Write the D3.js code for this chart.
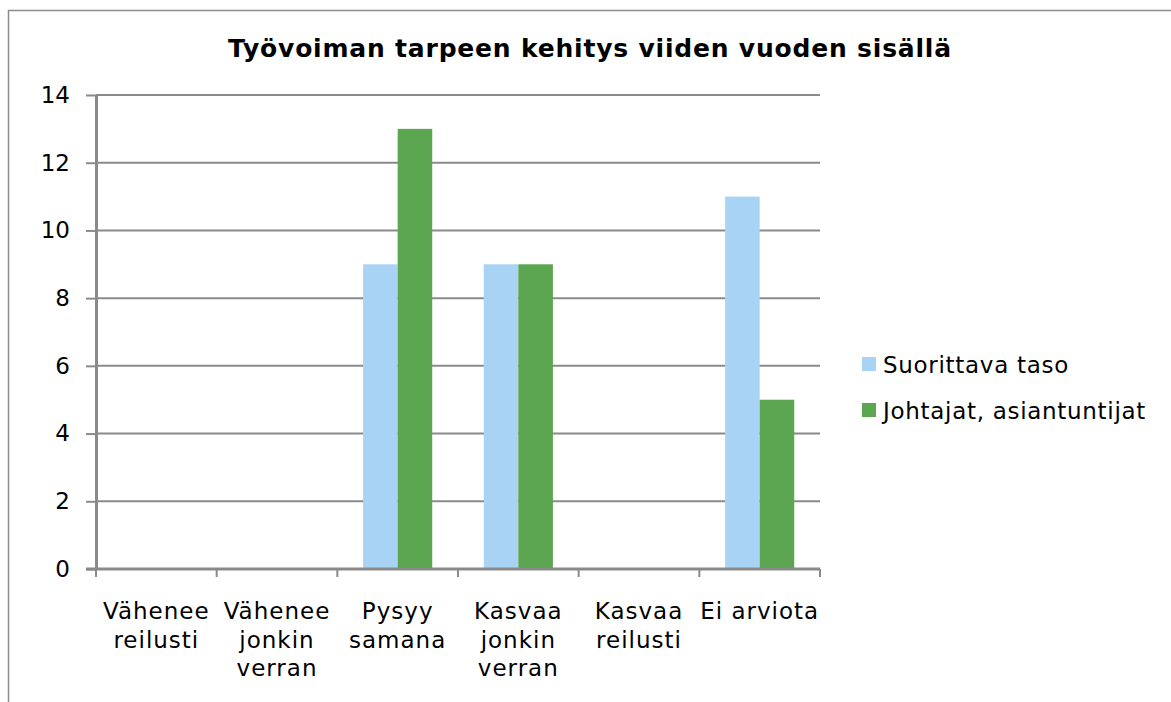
<!DOCTYPE html>
<html lang="fi">
<head>
    <meta charset="UTF-8">
    <title>Työvoiman tarpeen kehitys</title>
    <script type="text/javascript" src="https://cdn.jsdelivr.net/npm/d3@7"></script>
    <style>
        body { margin: 0; background: #fff; }
        text { font-family: "DejaVu Sans", Verdana, sans-serif; fill: #000; }
    </style>
</head>
<body>
<script type="text/javascript">
    const width = 1171, height = 702;

    // data
    const categories = [
        ['Vähenee', 'reilusti'],
        ['Vähenee', 'jonkin', 'verran'],
        ['Pysyy', 'samana'],
        ['Kasvaa', 'jonkin', 'verran'],
        ['Kasvaa', 'reilusti'],
        ['Ei arviota']
    ];
    const seriesNames = ['Suorittava taso', 'Johtajat, asiantuntijat'];
    const suorittava = [0, 0, 9, 9, 0, 11];
    const johtajat = [0, 0, 13, 9, 0, 5];
    const yTicks = [0, 2, 4, 6, 8, 10, 12, 14];
    const colors = ['#a9d3f5', '#5ca551'];

    const margin = {left: 96, right: 351, top: 95, bottom: 133};

    const svg = d3.select('body').append('svg')
        .attr('width', width)
        .attr('height', height);

    // chart frame
    svg.append('rect')
        .attr('x', 8.5).attr('y', 10.5)
        .attr('width', width + 20).attr('height', height + 20)
        .attr('fill', 'none')
        .attr('stroke', '#8c8c8c')
        .attr('stroke-width', 1.5);

    svg.append('text')
        .attr('x', 590).attr('y', 57)
        .attr('text-anchor', 'middle')
        .style('font-size', '25px')
        .style('font-weight', 'bold')
        .style('letter-spacing', '0.8px')
        .text('Työvoiman tarpeen kehitys viiden vuoden sisällä');

    const x = d3.scaleBand()
        .domain(d3.range(categories.length))
        .range([margin.left, width - margin.right]);

    const inner = d3.scaleBand()
        .domain([0, 1])
        .range([0, x.bandwidth() * 0.573]);

    const y = d3.scaleLinear()
        .domain([0, 14])
        .range([height - margin.bottom, margin.top]);

    // gridlines
    svg.append('g')
        .selectAll('line')
        .data(yTicks.filter(d => d > 0))
        .enter()
        .append('line')
        .attr('x1', margin.left).attr('x2', width - margin.right)
        .attr('y1', d => y(d)).attr('y2', d => y(d))
        .attr('stroke', '#8a8a8a')
        .attr('stroke-width', 2);

    // bars
    const series = [suorittava, johtajat];
    const offset = (x.bandwidth() - inner.range()[1]) / 2;
    series.forEach(function (vals, s) {
        svg.append('g')
            .selectAll('rect')
            .data(vals)
            .enter()
            .append('rect')
            .attr('x', (d, i) => x(i) + offset + inner(s))
            .attr('width', inner.bandwidth())
            .attr('y', d => y(d))
            .attr('height', d => y(0) - y(d))
            .attr('fill', colors[s]);
    });

    // y axis
    const yAxis = svg.append('g')
        .attr('transform', 'translate(' + margin.left + ',0)')
        .call(d3.axisLeft(y).tickValues(yTicks).tickSize(10).tickPadding(16).tickSizeOuter(0));
    yAxis.select('.domain').attr('stroke', '#8a8a8a').attr('stroke-width', 3);
    yAxis.selectAll('.tick line').attr('stroke', '#8a8a8a').attr('stroke-width', 2);
    yAxis.selectAll('.tick text')
        .style('font-size', '23px')
        .style('font-family', '"DejaVu Sans", sans-serif');

    // x axis
    const xAxis = svg.append('g')
        .attr('transform', 'translate(0,' + y(0) + ')');
    xAxis.append('line')
        .attr('x1', margin.left - 10).attr('x2', width - margin.right)
        .attr('stroke', '#8a8a8a').attr('stroke-width', 3);
    xAxis.selectAll('.xtick')
        .data(d3.range(categories.length + 1))
        .enter()
        .append('line')
        .attr('x1', d => margin.left + d * x.step())
        .attr('x2', d => margin.left + d * x.step())
        .attr('y1', 0).attr('y2', 8)
        .attr('stroke', '#8a8a8a').attr('stroke-width', 2);

    xAxis.selectAll('.xlabel')
        .data(categories)
        .enter()
        .append('text')
        .attr('text-anchor', 'middle')
        .style('font-size', '23px')
        .style('letter-spacing', '1px')
        .each(function (lines, i) {
            d3.select(this).selectAll('tspan')
                .data(lines)
                .enter()
                .append('tspan')
                .attr('x', x(i) + x.bandwidth() / 2)
                .attr('y', (d, j) => 50 + j * 28.5)
                .text(d => d);
        });

    // legend
    const legend = svg.append('g')
        .attr('transform', 'translate(862,357)');
    seriesNames.forEach(function (name, i) {
        legend.append('rect')
            .attr('x', 0).attr('y', i * 46)
            .attr('width', 14).attr('height', 14)
            .attr('fill', colors[i]);
        legend.append('text')
            .attr('x', 21).attr('y', i * 46 + 16)
            .style('font-size', '23px')
            .style('letter-spacing', '0.7px')
            .text(name);
    });
</script>
</body>
</html>
